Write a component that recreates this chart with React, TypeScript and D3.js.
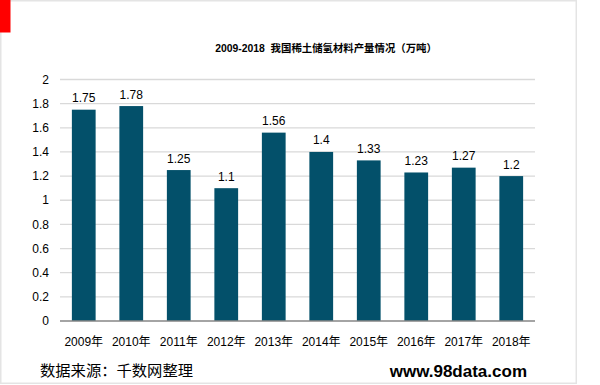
import * as d3 from 'd3'
import React from 'react'

const years = ['2009年', '2010年', '2011年', '2012年', '2013年', '2014年', '2015年', '2016年', '2017年', '2018年']
const output = [1.75, 1.78, 1.25, 1.1, 1.56, 1.4, 1.33, 1.23, 1.27, 1.2]
const yTicks = [0, 0.2, 0.4, 0.6, 0.8, 1, 1.2, 1.4, 1.6, 1.8, 2]

const font = '"Liberation Sans", Arial, "Noto Sans CJK SC", sans-serif'

const App = () => {
  const width = 600
  const height = 385
  const x = d3.scaleBand().domain(years).range([60, 535]).paddingInner(0.5).paddingOuter(0.25)
  const y = d3.scaleLinear().domain([0, 2]).range([321, 79.5])
  const fmt = (v) => String(v)

  return (
    <svg
      width={width}
      height={height}
      style={{ position: 'absolute', left: 0, top: 0, background: '#fff' }}
    >
      <rect x={0.75} y={0.75} width={575.5} height={382.5} fill="#fff" stroke="#e4e4e4" strokeWidth={1.5} />
      <rect x={0} y={0} width={10.5} height={32.5} fill="#ff0000" />

      <text
        x={326}
        y={51.5}
        textAnchor="middle"
        fontFamily={font}
        fontWeight="bold"
        fontSize={10.4}
        fill="#000"
        style={{ whiteSpace: 'pre' }}
      >
        {'2009-2018  我国稀土储氢材料产量情况（万吨）'}
      </text>

      {yTicks.map((t) => (
        <g key={t}>
          {t !== 0 && (
            <line x1={60} x2={535} y1={y(t)} y2={y(t)} stroke="#d9d9d9" strokeWidth={1.3} />
          )}
          <text
            x={49}
            y={y(t)}
            dy="0.35em"
            textAnchor="end"
            fontFamily={font}
            fontSize={12}
            fill="#000"
          >
            {fmt(t)}
          </text>
        </g>
      ))}

      {output.map((v, i) => (
        <g key={years[i]}>
          <rect x={x(years[i])} y={y(v)} width={x.bandwidth()} height={y(0) - y(v)} fill="#03506a" />
          <text
            x={x(years[i]) + x.bandwidth() / 2}
            y={y(v) - 7.5}
            textAnchor="middle"
            fontFamily={font}
            fontSize={12}
            fill="#000"
          >
            {fmt(v)}
          </text>
          <text
            x={x(years[i]) + x.bandwidth() / 2}
            y={342}
            dy="0.35em"
            textAnchor="middle"
            fontFamily={font}
            fontSize={12}
            fill="#000"
          >
            {years[i]}
          </text>
        </g>
      ))}

      <line x1={60} x2={535} y1={y(0)} y2={y(0)} stroke="#868686" strokeWidth={1.3} />

      <text x={40} y={371} dy="0.35em" fontFamily={font} fontSize={15.3} fill="#000">
        数据来源：千数网整理
      </text>
      <text
        x={527}
        y={371}
        dy="0.35em"
        textAnchor="end"
        fontFamily={font}
        fontWeight="bold"
        fontSize={17}
        fill="#000"
      >
        www.98data.com
      </text>
    </svg>
  )
}

export default App
